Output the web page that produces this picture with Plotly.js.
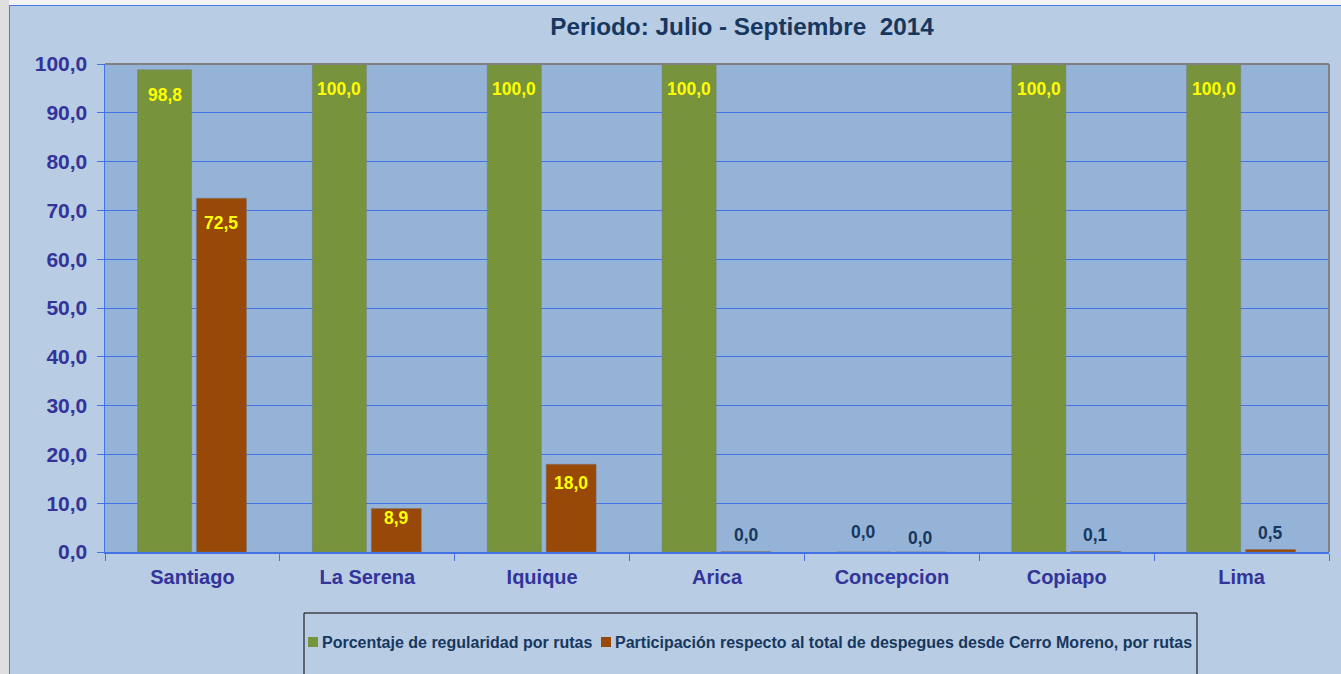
<!DOCTYPE html>
<html>
<head>
<meta charset="utf-8">
<script src="https://cdn.plot.ly/plotly-3.0.1.min.js"></script>
<style>
html,body{margin:0;padding:0;background:#f2f2f2;width:1341px;height:674px;overflow:hidden;}
#strip{position:absolute;left:0;top:0;width:9px;height:674px;background:#dedede;}
#chart{position:absolute;left:9px;top:5px;width:1331px;height:669px;border-left:1px solid #4a78e6;border-top:1px solid #4a78e6;}
</style>
</head>
<body>
<div id="strip"></div>
<div id="chart"></div>
<script>
const categories = ["Santiago","La Serena","Iquique","Arica","Concepcion","Copiapo","Lima"];
const regularidad = [98.8, 100.0, 100.0, 100.0, 0.0, 100.0, 100.0];
const participacion = [72.5, 8.9, 18.0, 0.04, 0.0, 0.1, 0.5];
const seriesNames = ["Porcentaje de regularidad por rutas", "Participación respecto al total de despegues desde Cerro Moreno, por rutas"];
const seriesColors = ['#77933c', '#984807'];
const yTicks = [0,10,20,30,40,50,60,70,80,90,100];

// layout geometry (div content coordinates)
const W = 1331, H = 669, ML = 95, MR = 12, MT = 58, MB = 123;
const PW = W - ML - MR, PH = H - MT - MB;
const OX = 10, OY = 6; // page offset of div content
const px = x => (x - OX - ML) / PW;
const py = y => 1 - (y - OY - MT) / PH;

const fmt = v => v.toFixed(1).replace('.', ',');
const isBig = v => v >= 5;

// bar geometry in category units
const geom = [{offset:-0.314, width:0.309}, {offset:0.023, width:0.286}];

const series = [regularidad, participacion];
const data = series.map((vals, i) => ({
  type:'bar', x:categories, y:vals, name:seriesNames[i],
  offset:geom[i].offset, width:geom[i].width,
  marker:{color:seriesColors[i], line:{color:'rgba(120,120,120,0.45)', width:1}},
  hoverinfo:'skip', showlegend:false
}));

// value labels
const annotations = [];
series.forEach((vals, i) => {
  const center = (geom[i].offset + geom[i].width/2) * PW / categories.length;
  vals.forEach((v, j) => {
    const big = isBig(v);
    const hpx = v / 100 * PH;
    annotations.push({
      x: categories[j], y: v, xref:'x', yref:'y',
      xshift: center, yshift: big ? -Math.min(25, hpx*0.22) : 17 + (i === 0 ? 3 : -3) * (v === 0 ? 1 : 0),
      yanchor:'middle', xanchor:'center', showarrow:false,
      text: fmt(v),
      font:{family:'Liberation Sans, Arial', size:17.5, weight:'bold', color: big ? '#ffff00' : '#17375e'}
    });
  });
});

// manual legend
const legendFont = {family:'Liberation Sans, Arial', size:16, weight:'bold', color:'#17375e'};
annotations.push({xref:'paper', yref:'paper', x:px(320), y:py(642), xanchor:'left', yanchor:'middle', showarrow:false, text:seriesNames[0], font:legendFont});
annotations.push({xref:'paper', yref:'paper', x:px(613), y:py(642), xanchor:'left', yanchor:'middle', showarrow:false, text:seriesNames[1], font:legendFont});

const layout = {
  width:W, height:H,
  paper_bgcolor:'#b8cce4', plot_bgcolor:'#95b3d7',
  margin:{l:ML, r:MR, t:MT, b:MB},
  font:{family:'Liberation Sans, Arial', color:'#333399'},
  title:{text:'Periodo: Julio - Septiembre \u00a02014', x:(742-OX)/W, xref:'container', y:1-(26-OY)/H, yref:'container', yanchor:'middle', xanchor:'center', font:{size:24.3, weight:'bold', color:'#17375e', family:'Liberation Sans, Arial'}},
  separators:',.',
  barmode:'group',
  xaxis:{type:'category', tickson:'boundaries', ticks:'outside', ticklen:7, tickcolor:'#4472e8',
    showline:true, linecolor:'#4472e8', linewidth:1.5, showgrid:false, ticklabelstandoff:6,
    tickfont:{size:20, color:'#333399', weight:'bold'}, fixedrange:true},
  yaxis:{range:[0,100], tickvals:yTicks, tickformat:'.1f', ticks:'outside', ticklen:7, tickcolor:'#4472e8',
    showline:true, linecolor:'#4472e8', linewidth:1.5, gridcolor:'#4472e8', gridwidth:1, zeroline:false,
    ticklabelstandoff:5,
    tickfont:{size:21, color:'#333399', weight:'bold'}, fixedrange:true},
  showlegend:false,
  annotations: annotations,
  shapes:[
    {type:'line', xref:'paper', yref:'paper', x0:0, x1:1, y0:1, y1:1, line:{color:'#808080', width:2}},
    {type:'line', xref:'paper', yref:'paper', x0:1, x1:1, y0:0, y1:1, line:{color:'#808080', width:2}},
    {type:'rect', xref:'paper', yref:'paper', x0:px(304), x1:px(1197), y0:py(613), y1:py(700), line:{color:'#000000', width:1}, fillcolor:'rgba(0,0,0,0)'},
    {type:'rect', xref:'paper', yref:'paper', x0:px(308), x1:px(318), y0:py(637), y1:py(647), line:{width:0}, fillcolor:seriesColors[0]},
    {type:'rect', xref:'paper', yref:'paper', x0:px(601), x1:px(611), y0:py(637), y1:py(647), line:{width:0}, fillcolor:seriesColors[1]}
  ]
};
Plotly.newPlot('chart', data, layout, {displayModeBar:false, staticPlot:true});
</script>
</body>
</html>
